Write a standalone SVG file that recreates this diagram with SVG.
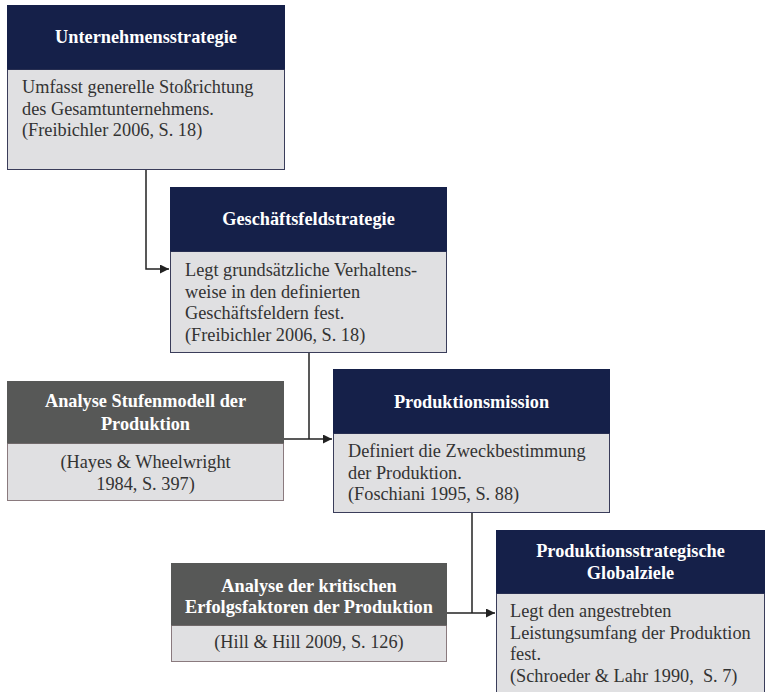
<svg xmlns="http://www.w3.org/2000/svg" width="766" height="692" viewBox="0 0 766 692">
<defs>
<style>
.hd{fill:#152049;}
.hg{fill:#575857;}
.bd{fill:#e0e0e2;stroke:#3a3d5a;stroke-width:1;}
.bg{fill:#e0e0e2;stroke:#8a7a7e;stroke-width:1;}
text{font-family:'Liberation Serif','Times New Roman',Times,serif;}
.ttl{font-weight:bold;font-size:18.3px;fill:#ffffff;text-anchor:middle;}
.txt{font-size:18.3px;fill:#333333;}
.ctr{text-anchor:middle;}
.con{fill:none;stroke:#222222;stroke-width:1.5;}
</style>
<marker id="ar" viewBox="0 0 10 10" refX="10" refY="5" markerWidth="9" markerHeight="9" markerUnits="userSpaceOnUse" orient="auto">
<path d="M0,0 L10,5 L0,10 z" fill="#222222"/>
</marker>
</defs>
<rect width="766" height="692" fill="#ffffff"/>

<g id="connectors">
<path class="con" d="M146,170 V269 H169" marker-end="url(#ar)"/>
<path class="con" d="M309,353 V439"/>
<path class="con" d="M284,439 H332" marker-end="url(#ar)"/>
<path class="con" d="M472,513 V613"/>
<path class="con" d="M447,613 H495" marker-end="url(#ar)"/>
</g>

<g id="unternehmensstrategie">
<rect class="bd" x="7.5" y="69.5" width="277" height="100"/>
<rect class="hd" x="7" y="5" width="278" height="64.5"/>
<text class="ttl" x="146" y="43">Unternehmensstrategie</text>
<text class="txt" x="22" y="93">Umfasst generelle Stoßrichtung</text>
<text class="txt" x="22" y="115">des Gesamtunternehmens.</text>
<text class="txt" x="22" y="136">(Freibichler 2006, S. 18)</text>
</g>

<g id="geschaeftsfeldstrategie">
<rect class="bd" x="170.5" y="251.5" width="276" height="101"/>
<rect class="hd" x="170" y="187" width="277" height="64.5"/>
<text class="ttl" x="308.5" y="225">Geschäftsfeldstrategie</text>
<text class="txt" x="185" y="276">Legt grundsätzliche Verhaltens-</text>
<text class="txt" x="185" y="298">weise in den definierten</text>
<text class="txt" x="185" y="319">Geschäftsfeldern fest.</text>
<text class="txt" x="185" y="341">(Freibichler 2006, S. 18)</text>
</g>

<g id="analyse-stufenmodell">
<rect class="bg" x="7.5" y="443.5" width="276" height="57"/>
<rect class="hg" x="7" y="381" width="277" height="62.5"/>
<text class="ttl" x="145.5" y="407">Analyse Stufenmodell der</text>
<text class="ttl" x="145.5" y="430">Produktion</text>
<text class="txt ctr" x="145.5" y="468">(Hayes &amp; Wheelwright</text>
<text class="txt ctr" x="145.5" y="490">1984, S. 397)</text>
</g>

<g id="produktionsmission">
<rect class="bd" x="333.5" y="433.5" width="276" height="79"/>
<rect class="hd" x="333" y="369" width="277" height="64.5"/>
<text class="ttl" x="471.5" y="408">Produktionsmission</text>
<text class="txt" x="348" y="457">Definiert die Zweckbestimmung</text>
<text class="txt" x="348" y="479">der Produktion.</text>
<text class="txt" x="348" y="500">(Foschiani 1995, S. 88)</text>
</g>

<g id="analyse-erfolgsfaktoren">
<rect class="bg" x="171.5" y="625.5" width="275" height="36"/>
<rect class="hg" x="171" y="563" width="276" height="62.5"/>
<text class="ttl" x="309" y="592">Analyse der kritischen</text>
<text class="ttl" x="309" y="613">Erfolgsfaktoren der Produktion</text>
<text class="txt ctr" x="309" y="648">(Hill &amp; Hill 2009, S. 126)</text>
</g>

<g id="globalziele">
<rect class="bd" x="496.5" y="593.5" width="268" height="110"/>
<rect class="hd" x="496" y="530" width="269" height="63.5"/>
<text class="ttl" x="630.5" y="557">Produktionsstrategische</text>
<text class="ttl" x="630.5" y="579">Globalziele</text>
<text class="txt" x="510" y="617">Legt den angestrebten</text>
<text class="txt" x="510" y="639">Leistungsumfang der Produktion</text>
<text class="txt" x="510" y="660">fest.</text>
<text class="txt" x="510" y="682" xml:space="preserve">(Schroeder &amp; Lahr 1990,  S. 7)</text>
</g>
</svg>
